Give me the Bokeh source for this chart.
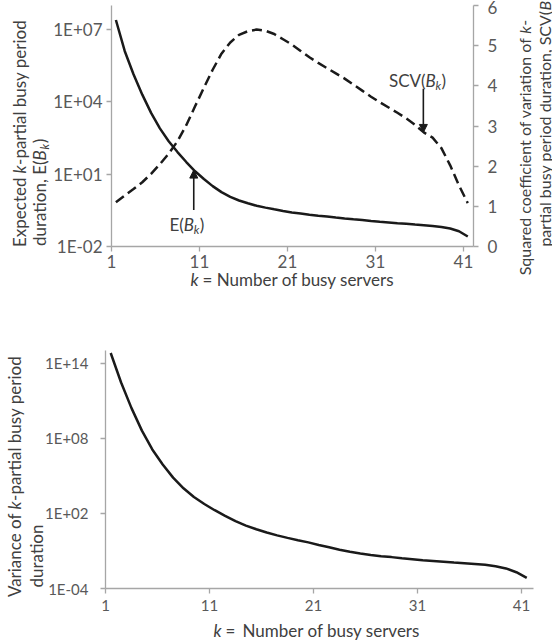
from math import pi, log10
from bokeh.plotting import figure
from bokeh.models import (Range1d, LinearAxis, LinearScale, FixedTicker, Label,
                          Arrow, NormalHead)
from bokeh.layouts import column
from bokeh.embed import file_html
from bokeh.resources import INLINE

# ---------------- data ----------------
k = list(range(1, 42))

# Expected k-partial busy period duration E(B_k)
mean_busy = [2.5e7, 1.3e6, 1.4e5, 2.0e4, 3.5e3, 800, 234, 83, 32, 13.2,
             6.3, 3.2, 1.8, 1.15, 0.81, 0.62, 0.49, 0.41, 0.35, 0.30,
             0.26, 0.234, 0.209, 0.19, 0.174, 0.158, 0.145, 0.135, 0.126, 0.115,
             0.107, 0.100, 0.093, 0.087, 0.081, 0.076, 0.071, 0.065, 0.056, 0.043,
             0.026]

# Squared coefficient of variation SCV(B_k)
scv_busy = [1.10, 1.27, 1.43, 1.60, 1.81, 2.05, 2.31, 2.62, 3.02, 3.49,
            3.95, 4.40, 4.80, 5.08, 5.27, 5.36, 5.40, 5.37, 5.29, 5.16,
            5.03, 4.87, 4.71, 4.57, 4.44, 4.31, 4.18, 4.03, 3.88, 3.73,
            3.59, 3.46, 3.33, 3.19, 3.03, 2.84, 2.71, 2.45, 2.02, 1.52,
            1.08]

# Variance of k-partial busy period duration
var_busy = [6.3e14, 2.8e12, 2.5e10, 4.0e8, 1.26e7, 7.9e5, 7.1e4, 1.0e4, 2.0e3, 560,
            178, 63, 24, 10.5, 5.4, 2.95, 1.74, 1.1, 0.72, 0.48,
            0.30, 0.195, 0.126, 0.085, 0.063, 0.047, 0.038, 0.032, 0.026, 0.022,
            0.018, 0.0158, 0.0138, 0.012, 0.0105, 0.0091, 0.0078, 0.006, 0.004, 0.002,
            0.0007]

x_tick_labels = ["1", "11", "21", "31", "41"]
top_y_ticks = [1e-2, 1e1, 1e4, 1e7]
top_y_labels = ["1E-02", "1E+01", "1E+04", "1E+07"]
scv_ticks = [0, 1, 2, 3, 4, 5, 6]
bot_y_ticks = [1e-4, 1e2, 1e8, 1e14]
bot_y_labels = ["1E-04", "1E+02", "1E+08", "1E+14"]

# ---------------- style ----------------
FONT = "Lato"
AXIS_GREY = "#a6a6a6"
TICK_TXT = "#595959"
TITLE_TXT = "#404040"
LINE = "#1a1a1a"
TS = 17     # left vertical titles
TSR = 16    # right vertical title
XS = 17     # horizontal titles

x_tick_pos = [int(t) - 0.5 for t in x_tick_labels]
X0, X1 = 0.5, 41.65


def lin_range(v0, v1, p0, p1, total):
    """range whose value v0 sits at pixel p0 and v1 at pixel p1 of a 0..total span"""
    s = (v1 - v0) / (p1 - p0)
    return v0 - p0 * s, v0 + (total - p0) * s


def log_range(v0, v1, p0, p1, total):
    a, b = lin_range(log10(v0), log10(v1), p0, p1, total)
    return 10 ** a, 10 ** b


def style_axis(ax, size, standoff):
    ax.axis_line_color = AXIS_GREY
    ax.axis_line_width = 1.3
    ax.major_tick_line_color = AXIS_GREY
    ax.major_tick_line_width = 1.3
    ax.major_tick_out = 5
    ax.major_tick_in = 0
    ax.minor_tick_line_color = None
    ax.major_label_text_font = FONT
    ax.major_label_text_font_size = f"{size}px"
    ax.major_label_text_color = TICK_TXT
    ax.major_label_standoff = standoff


def rich(p, x, y, lead, tail, size, rotated=False, y_range_name="default",
         units="data", lead_style="normal"):
    """lead is right-aligned at the anchor, tail pieces follow left-aligned."""
    angle = pi / 2 if rotated else 0

    def mk(text, a, d, style, fsize, align):
        if rotated:
            xoff, yoff = d, a
        else:
            xoff, yoff = a, -d
        p.add_layout(Label(x=x, y=y, x_units=units, y_units=units,
                           x_offset=xoff, y_offset=yoff, text=text,
                           angle=angle, text_font=FONT,
                           text_font_size=f"{fsize}px", text_font_style=style,
                           text_color=TITLE_TXT, text_align=align,
                           text_baseline="middle", y_range_name=y_range_name))
    if lead:
        mk(lead, 0, 0, lead_style, size, "right")
    a = 0
    for text, style, sub, w in tail:
        if text:
            fs = round(size * 0.7, 1) if sub else size
            mk(text, a, size * 0.3 if sub else 0, style, fs, "left")
        a += w


def base_fig(width, height, xr, yr):
    p = figure(width=width, height=height, x_range=Range1d(*xr),
               y_range=Range1d(*yr), y_axis_type="log", output_backend="svg",
               toolbar_location=None, min_border=0)
    p.outline_line_color = None
    p.xgrid.visible = False
    p.ygrid.visible = False
    p.background_fill_color = "white"
    p.border_fill_color = "white"
    return p


def sub_b(size):
    return [("B", "italic", False, size * 0.65), ("k", "italic", True, size * 0.36),
            (")", "normal", False, 0)]


def k_part(size):
    return [(None, "normal", False, size * 0.24), ("k", "italic", False, size * 0.5)]


# ---------------- top chart (552 x 300, plot area x 111..473, y 5..246) ----------------
W1, H1 = 552, 300
p1 = base_fig(W1, H1, lin_range(X0, X1, 111, 473, W1),
              log_range(1e-2, 1e8, H1 - 246, H1 - 5, H1))
p1.extra_y_ranges = {"scv": Range1d(*lin_range(0, 6, H1 - 246, H1 - 5, H1))}
p1.extra_y_scales = {"scv": LinearScale()}

xa = p1.xaxis[0]
xa.ticker = FixedTicker(ticks=x_tick_pos)
xa.major_label_overrides = dict(zip(x_tick_pos, x_tick_labels))
xa.fixed_location = 1e-2
xa.bounds = (X0, X1)
style_axis(xa, 17, 3)

ya = p1.yaxis[0]
ya.ticker = FixedTicker(ticks=top_y_ticks)
ya.major_label_overrides = dict(zip(top_y_ticks, top_y_labels))
ya.fixed_location = X0
ya.bounds = (1e-2, 1e8)
style_axis(ya, 17, 4)

ax_r = LinearAxis(y_range_name="scv", ticker=FixedTicker(ticks=scv_ticks),
                  fixed_location=X1, bounds=(0, 6))
style_axis(ax_r, 17, 9)
p1.add_layout(ax_r, "right")

p1.line(k, mean_busy, line_width=2.5, line_color=LINE)
p1.line(k, scv_busy, y_range_name="scv", line_width=2.5, line_color=LINE,
        line_dash="10 5")

head = dict(size=8, fill_color=LINE, line_color=LINE)
p1.add_layout(Arrow(end=NormalHead(**head), x_start=9.85, y_start=0.33,
                    x_end=9.85, y_end=14.8, line_width=1.6, line_color=LINE))
p1.add_layout(Arrow(end=NormalHead(**head), x_start=35.95, y_start=3.93,
                    x_end=35.95, y_end=2.84, line_width=1.6, line_color=LINE,
                    y_range_name="scv"))

rich(p1, 8.72, 0.079, "E(", [("B", "italic", False, 10), ("k", "italic", True, 6), (")", "normal", False, 0)], 17)
rich(p1, 36.2, 4.13, "SCV(", [("B", "italic", False, 10), ("k", "italic", True, 6), (")", "normal", False, 0)], 17,
     y_range_name="scv")

# titles (screen pixels, y measured from the bottom of the canvas)
rich(p1, 198, H1 - 279, "k", [(None, "normal", False, 4), ("= Number of busy servers", "normal", False, 0)], XS,
     units="screen", lead_style="italic")
rich(p1, 19, H1 - 177, "Expected", k_part(TS) + [("-partial busy period", "normal", False, 0)], TS,
     rotated=True, units="screen")
rich(p1, 39, H1 - 160, "duration, E(", sub_b(TS), TS, rotated=True, units="screen")
rich(p1, 524, H1 - 37, "Squared coefficient of variation of", k_part(TSR) + [("-", "normal", False, 0)], TSR,
     rotated=True, units="screen")
rich(p1, 544, H1 - 10, "partial busy period duration, SCV(", sub_b(TSR), TSR, rotated=True, units="screen")

# ---------------- bottom chart (552 x 344, plot area x 105..533, y 50..288) ----------------
W2, H2 = 552, 344
p2 = base_fig(W2, H2, lin_range(X0, X1, 105, 533, W2),
              log_range(1e-4, 1e15, H2 - 288, H2 - 50, H2))
xb = p2.xaxis[0]
xb.ticker = FixedTicker(ticks=x_tick_pos)
xb.major_label_overrides = dict(zip(x_tick_pos, x_tick_labels))
xb.fixed_location = 1e-4
xb.bounds = (X0, X1)
style_axis(xb, 15, 6)

yb = p2.yaxis[0]
yb.ticker = FixedTicker(ticks=bot_y_ticks)
yb.major_label_overrides = dict(zip(bot_y_ticks, bot_y_labels))
yb.fixed_location = X0
yb.bounds = (1e-4, 1e15)
style_axis(yb, 15, 12)

p2.line(k, var_busy, line_width=2.5, line_color=LINE)

rich(p2, 221, H2 - 330, "k", [(None, "normal", False, 4), ("=", "normal", False, 17),
                               ("Number of busy servers", "normal", False, 0)], XS,
     units="screen", lead_style="italic")
rich(p2, 14, H2 - 213, "Variance of", k_part(TS) + [("-partial busy period", "normal", False, 0)], TS,
     rotated=True, units="screen")
rich(p2, 36, H2 - 287, None, [("duration", "normal", False, 0)], TS, rotated=True, units="screen")

layout = column(p1, p2)
open("out.html", "w").write(file_html(layout, INLINE))
